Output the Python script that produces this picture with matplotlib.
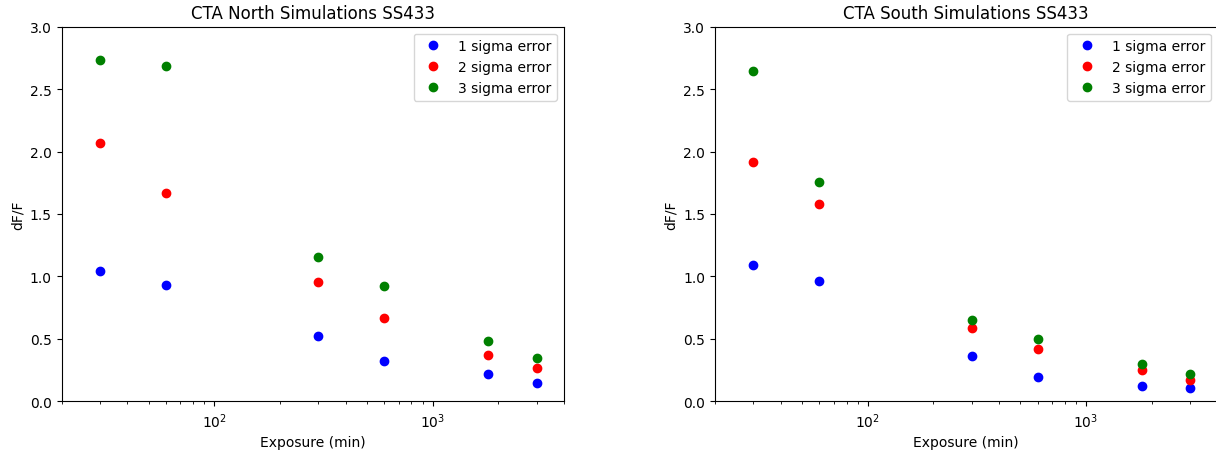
import numpy as np
import matplotlib
matplotlib.use("Agg")
import matplotlib.pyplot as plt

exposure = [30, 60, 300, 600, 1800, 3000]

north_1sig = [1.04, 0.93, 0.523, 0.32, 0.219, 0.144]
north_2sig = [2.07, 1.67, 0.958, 0.667, 0.368, 0.267]
north_3sig = [2.736, 2.683, 1.156, 0.921, 0.483, 0.347]

south_1sig = [1.094, 0.963, 0.363, 0.192, 0.12, 0.107]
south_2sig = [1.916, 1.578, 0.587, 0.416, 0.251, 0.173]
south_3sig = [2.648, 1.756, 0.651, 0.499, 0.296, 0.216]

fig = plt.figure(figsize=(12.16, 4.52), dpi=100)
ax1 = fig.add_axes([0.0507, 0.110, 0.4131, 0.8288])
ax2 = fig.add_axes([0.588, 0.110, 0.4133, 0.8288])

def draw(ax, s1, s2, s3, title):
    ax.plot(exposure, s1, 'bo', label="1 sigma error")
    ax.plot(exposure, s2, 'ro', label="2 sigma error")
    ax.plot(exposure, s3, 'o', color='green', label="3 sigma error")
    ax.set_xscale('log')
    ax.set_xlim(20, 4000)
    ax.set_ylim(0, 3.0)
    ax.set_xlabel("Exposure (min)")
    ax.set_ylabel("dF/F")
    ax.set_title(title)
    ax.legend(loc='upper right')

draw(ax1, north_1sig, north_2sig, north_3sig, "CTA North Simulations SS433")
draw(ax2, south_1sig, south_2sig, south_3sig, "CTA South Simulations SS433")

fig.savefig("out.png", dpi=100)
